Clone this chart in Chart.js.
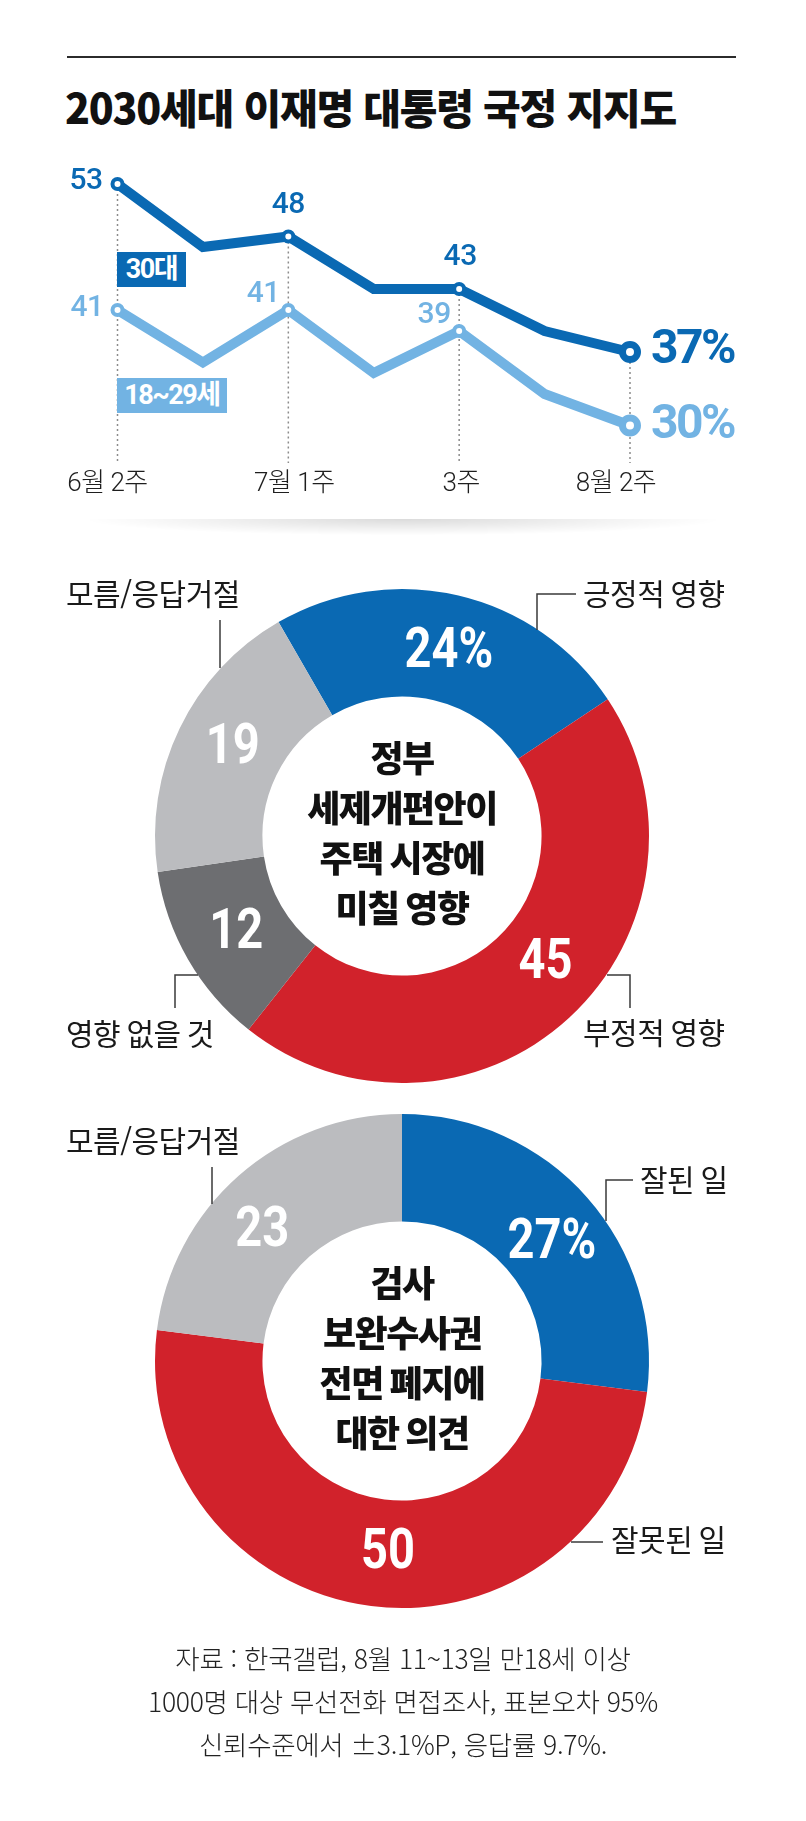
<!DOCTYPE html>
<html lang="ko">
<head>
<meta charset="utf-8">
<title>2030세대 이재명 대통령 국정 지지도</title>
<script src="https://cdn.jsdelivr.net/npm/chart.js@4.4.1/dist/chart.umd.min.js"></script>
<style>
  html, body { margin: 0; padding: 0; background: #fff; }
  body { width: 806px; height: 1821px; position: relative; overflow: hidden; font-family: 'Noto Sans CJK KR', sans-serif; }
  .rule { position: absolute; left: 67px; top: 56px; width: 669px; height: 2px; background: #2b2b2b; }
  .title { position: absolute; left: 65px; top: 84px; font-size: 41px; line-height: 45px; font-weight: 900; letter-spacing: -1.2px; color: #111; white-space: nowrap; }
  canvas { position: absolute; left: 0; }
  #trend { top: 0; }
  #impact { top: 540px; }
  #prosec { top: 1100px; }
  .tag { position: absolute; height: 35px; line-height: 35px; color: #fff; font-family: Roboto, 'Noto Sans CJK KR', sans-serif; font-weight: 700; font-size: 27px; letter-spacing: -1.5px; text-align: center; }
  .shadow { position: absolute; left: 90px; top: 519px; width: 626px; height: 16px; background: radial-gradient(ellipse at 50% 0%, rgba(0,0,0,0.14) 0%, rgba(0,0,0,0.05) 45%, rgba(0,0,0,0) 72%); }
  .note { position: absolute; left: 0; top: 1636px; width: 806px; text-align: center; font-size: 26.5px; line-height: 43px; font-weight: 300; letter-spacing: -0.3px; color: #222; }
</style>
</head>
<body>
<div class="rule"></div>
<div class="title">2030세대 이재명 대통령 국정 지지도</div>
<canvas id="trend" width="806" height="540"></canvas>
<div class="tag" style="left:117px; top:252px; width:69px; background:#0a69b3;">30대</div>
<div class="tag" style="left:117px; top:378px; width:110px; background:#72b3e3;">18~29세</div>
<div class="shadow"></div>
<canvas id="impact" width="806" height="560"></canvas>
<canvas id="prosec" width="806" height="530"></canvas>
<div class="note">자료 : 한국갤럽, 8월 11~13일 만18세 이상<br>1000명 대상 무선전화 면접조사, 표본오차 95%<br>신뢰수준에서 ±3.1%P, 응답률 9.7%.</div>

<script>
// line chart data
const weeks = ['6월 2주', '', '7월 1주', '', '3주', '', '8월 2주'];
const thirties = [53, 47, 48, 43, 43, 39, 37];
const twenties = [41, 36, 41, 35, 39, 33, 30];
const yMin = 25;
const yMax = 55;

// doughnut data
const impactLabels = ['긍정적 영향', '부정적 영향', '영향 없을 것', '모름/응답거절'];
const impactValues = [24, 45, 12, 19];
const prosecLabels = ['잘된 일', '잘못된 일', '모름/응답거절'];
const prosecValues = [27, 50, 23];

const DARK = '#0a69b3';
const LIGHT = '#72b3e3';
const RED = '#d1222b';
const GREY = '#6d6e71';
const SILVER = '#bbbcbf';

// where each value label sits next to its point: [align, dx, dy]
const thirtiesTags = { 0: ['right', -15, -3], 2: ['center', 0, -31], 4: ['center', 1, -32], 6: ['left', 21, -1] };
const twentiesTags = { 0: ['right', -14, -2], 2: ['center', -25, -16], 4: ['center', -25, -16], 6: ['left', 21, 0] };
const weekShift = [-10, 0, 6, 0, 2, 0, -14];

const trendDecor = {
    id: 'trendDecor',
    beforeDatasetsDraw(chart) {
        const ctx = chart.ctx;
        const x = chart.scales.x, y = chart.scales.y;
        const bottom = chart.chartArea.bottom - 15;
        ctx.save();
        ctx.strokeStyle = '#8c8c8c';
        ctx.lineWidth = 1.5;
        ctx.setLineDash([2, 3]);
        weeks.forEach((w, i) => {
            if (!w) return;
            const px = x.getPixelForValue(i);
            ctx.beginPath();
            ctx.moveTo(px, y.getPixelForValue(Math.max(thirties[i], twenties[i])));
            ctx.lineTo(px, bottom);
            ctx.stroke();
        });
        ctx.setLineDash([]);

        // week labels
        ctx.font = '300 26px Roboto, "Noto Sans CJK KR", sans-serif';
        ctx.letterSpacing = '-0.5px';
        ctx.fillStyle = '#1e1e1e';
        ctx.textAlign = 'center';
        ctx.textBaseline = 'middle';
        weeks.forEach((w, i) => {
            if (!w) return;
            ctx.fillText(w, x.getPixelForValue(i) + weekShift[i], bottom + 21);
        });
        ctx.restore();
    },
    afterDatasetsDraw(chart) {
        const ctx = chart.ctx;
        const x = chart.scales.x, y = chart.scales.y;
        const sets = [[thirties, thirtiesTags, DARK], [twenties, twentiesTags, LIGHT]];
        ctx.save();
        ctx.textBaseline = 'middle';
        sets.forEach(([values, tags, color]) => {
            ctx.fillStyle = color;
            Object.keys(tags).forEach(k => {
                const i = Number(k);
                const [align, dx, dy] = tags[k];
                const last = i === values.length - 1;
                ctx.font = last ? 'bold 48px Roboto, sans-serif' : '500 30px Roboto, sans-serif';
                ctx.letterSpacing = last ? '-2.5px' : '-0.5px';
                ctx.textAlign = align;
                ctx.fillText(values[i] + (last ? '%' : ''), x.getPixelForValue(i) + dx, y.getPixelForValue(values[i]) + dy);
            });
        });
        ctx.restore();
    }
};

function markerSizes(values, small, big) {
    return values.map((v, i) => i === values.length - 1 ? big : (weeks[i] ? small : 0));
}

new Chart(document.getElementById('trend'), {
    type: 'line',
    data: {
        labels: weeks,
        datasets: [{
            label: '30대',
            data: thirties,
            borderColor: DARK,
            borderWidth: 10,
            pointRadius: markerSizes(thirties, 5, 7.5),
            pointBorderWidth: markerSizes(thirties, 4, 7),
            pointBackgroundColor: '#fff',
            pointBorderColor: DARK,
            clip: false
        }, {
            label: '18~29세',
            data: twenties,
            borderColor: LIGHT,
            borderWidth: 10,
            pointRadius: markerSizes(twenties, 5, 7.5),
            pointBorderWidth: markerSizes(twenties, 4, 7),
            pointBackgroundColor: '#fff',
            pointBorderColor: LIGHT,
            clip: false
        }]
    },
    options: {
        responsive: false,
        animation: false,
        events: [],
        elements: { line: { tension: 0, borderJoinStyle: 'miter', borderCapStyle: 'butt' } },
        layout: { padding: { left: 117.5, right: 176, top: 163, bottom: 62 } },
        scales: {
            x: { display: false, offset: false },
            y: { display: false, min: yMin, max: yMax }
        },
        plugins: { legend: { display: false }, tooltip: { enabled: false } }
    },
    plugins: [trendDecor]
});

const ringDecor = {
    id: 'ringDecor',
    afterDatasetsDraw(chart, args, opts) {
        const ctx = chart.ctx;
        const meta = chart.getDatasetMeta(0);
        const values = chart.data.datasets[0].data;
        const labels = chart.data.labels;
        ctx.save();

        // slice values
        ctx.fillStyle = '#fff';
        ctx.textAlign = 'center';
        ctx.textBaseline = 'middle';
        ctx.font = 'bold 56px Roboto, sans-serif';
        meta.data.forEach((arc, i) => {
            const mid = (arc.startAngle + arc.endAngle) / 2 + opts.nudge[i] * Math.PI / 180;
            const r = (arc.innerRadius + arc.outerRadius) / 2 - 2;
            ctx.save();
            ctx.translate(arc.x + Math.cos(mid) * r, arc.y + Math.sin(mid) * r);
            ctx.scale(0.84, 1);
            ctx.fillText(values[i] + (i === 0 ? '%' : ''), 0, 2);
            ctx.restore();
        });

        // caption in the hole
        const c = meta.data[0];
        ctx.fillStyle = '#111';
        ctx.font = '900 36px "Noto Sans CJK KR", sans-serif';
        ctx.letterSpacing = '-1.5px';
        opts.caption.forEach((line, k) => {
            ctx.fillText(line, c.x, c.y - 78 + k * 50);
        });

        // callouts with leader lines
        ctx.letterSpacing = '-0.5px';
        ctx.font = '400 30px "Noto Sans CJK KR", sans-serif';
        ctx.fillStyle = '#1a1a1a';
        ctx.strokeStyle = '#3a3a3a';
        ctx.lineWidth = 1.5;
        opts.callouts.forEach(co => {
            ctx.textAlign = 'left';
            ctx.fillText(labels[co.i], co.x, co.y);
            ctx.beginPath();
            co.path.forEach((p, k) => k ? ctx.lineTo(p[0], p[1]) : ctx.moveTo(p[0], p[1]));
            ctx.stroke();
        });
        ctx.restore();
    }
};

function ring(id, labels, values, colors, rotation, pad, extra) {
    return new Chart(document.getElementById(id), {
        type: 'doughnut',
        data: {
            labels: labels,
            datasets: [{ data: values, backgroundColor: colors, borderWidth: 0 }]
        },
        options: {
            responsive: false,
            animation: false,
            events: [],
            cutout: '56.5%',
            rotation: rotation,
            layout: { padding: pad },
            plugins: { legend: { display: false }, tooltip: { enabled: false }, ringDecor: extra }
        },
        plugins: [ringDecor]
    });
}

ring('impact', impactLabels, impactValues, [DARK, RED, GREY, SILVER], -30,
    { left: 155, right: 157, top: 49, bottom: 17 }, {
        nudge: [1, -6, 0, 2],
        caption: ['정부', '세제개편안이', '주택 시장에', '미칠 영향'],
        callouts: [
            { i: 0, x: 583, y: 54, path: [[576, 54], [537, 54], [537, 90]] },
            { i: 1, x: 583, y: 493, path: [[607, 435], [630, 435], [630, 468]] },
            { i: 2, x: 66, y: 494, path: [[198, 435], [175, 435], [175, 468]] },
            { i: 3, x: 66, y: 54, path: [[220, 80], [220, 128]] }
        ]
    });

ring('prosec', prosecLabels, prosecValues, [DARK, RED, SILVER], 0,
    { left: 155, right: 157, top: 14, bottom: 22 }, {
        nudge: [3, -3, -5.5],
        caption: ['검사', '보완수사권', '전면 폐지에', '대한 의견'],
        callouts: [
            { i: 0, x: 640, y: 80, path: [[633, 80], [606, 80], [606, 121]] },
            { i: 1, x: 611, y: 440, path: [[603, 442], [571, 442]] },
            { i: 2, x: 66, y: 41, path: [[212, 67], [212, 104]] }
        ]
    });
</script>
</body>
</html>
